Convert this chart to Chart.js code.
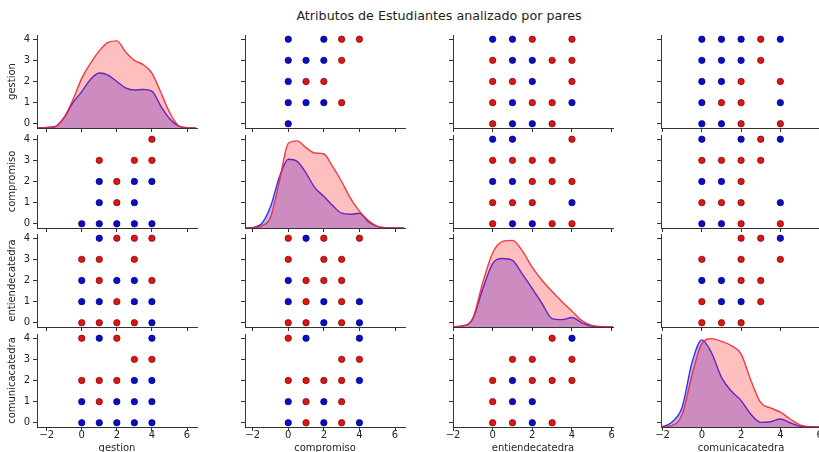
<!DOCTYPE html>
<html>
<head>
<meta charset="utf-8">
<script src="https://cdn.jsdelivr.net/npm/chart.js@4"></script>
<style>
  html, body { margin: 0; padding: 0; background: #ffffff; overflow: hidden; }
  body { width: 819px; height: 452px; position: relative; }
  canvas { position: absolute; }
  #title { position: absolute; left: 0; top: 8px; width: 878px; text-align: center;
           font-family: "DejaVu Sans", sans-serif; font-size: 12.7px; color: #222; }
</style>
</head>
<body>
<div id="title">Atributos de Estudiantes analizado por pares</div>
<script>
// ---------- DATA ----------
const variables = ['gestion', 'compromiso', 'entiendecatedra', 'comunicacatedra'];
const xTickValues = [-2, 0, 2, 4, 6];
const yTickValues = [0, 1, 2, 3, 4];

// KDE curves (diagonal), density
const kdeGrid = [-2.5, -2, -1.5, -1, -0.5, 0, 0.5, 1, 1.5, 2, 2.5, 3, 3.5, 4, 4.5, 5, 5.5, 6, 6.5];
const kdeGestionRed   = [0, 0.01, 0.06, 0.5, 1.35, 2.35, 3.06, 3.65, 4.05, 4.12, 3.6, 3.2, 3.0, 2.6, 1.7, 0.75, 0.12, 0.01, 0];
const kdeGestionBlue  = [0, 0.03, 0.08, 0.5, 1.2, 1.72, 2.3, 2.6, 2.5, 2.2, 1.9, 1.8, 1.82, 1.75, 1.05, 0.45, 0.1, 0.02, 0];
const kdeCompromisoRed  = [0, 0.01, 0.1, 0.5, 2.2, 4.0, 4.12, 3.8, 3.55, 3.5, 2.9, 2.2, 1.4, 0.8, 0.35, 0.08, 0.01, 0, 0];
const kdeCompromisoBlue = [0, 0.03, 0.2, 1.0, 2.4, 3.25, 3.15, 2.6, 1.9, 1.5, 1.06, 0.7, 0.65, 0.7, 0.3, 0.08, 0.01, 0, 0];
const kdeEntiendeRed  = [0, 0.01, 0.05, 0.4, 2.1, 3.5, 4.05, 4.1, 3.6, 2.82, 2.2, 1.68, 1.2, 0.75, 0.3, 0.08, 0.02, 0, 0];
const kdeEntiendeBlue = [0, 0.01, 0.05, 0.4, 1.8, 3.0, 3.24, 3.15, 2.5, 1.82, 1.1, 0.4, 0.35, 0.45, 0.2, 0.04, 0.01, 0, 0];
const kdeComunicaRed  = [0, 0.01, 0.08, 0.6, 2.45, 3.95, 4.18, 4.05, 3.85, 3.45, 2.2, 1.15, 0.9, 0.7, 0.38, 0.1, 0.01, 0, 0];
const kdeComunicaBlue = [0, 0.03, 0.25, 0.95, 3.05, 4.12, 3.5, 2.35, 1.7, 1.25, 0.6, 0.22, 0.25, 0.38, 0.2, 0.04, 0.01, 0, 0];

// Scatter points [x (column variable), y (row variable)], visible colour
const ptsGestionCompromisoRed  = [[3,4],[4,4],[3,3],[1,2],[2,2],[3,1]];
const ptsGestionCompromisoBlue = [[0,4],[2,4],[0,3],[1,3],[2,3],[0,2],[0,1],[1,1],[2,1],[0,0]];
const ptsGestionEntiendeRed    = [[2,4],[4,4],[0,3],[3,3],[4,3],[0,2],[1,2],[4,2],[0,1],[2,1],[3,1],[0,0],[3,0]];
const ptsGestionEntiendeBlue   = [[0,4],[1,4],[1,3],[2,3],[2,2],[1,1],[4,1],[1,0],[2,0]];
const ptsGestionComunicaRed    = [[3,4],[3,3],[2,2],[4,2],[1,1],[2,1],[2,0],[4,0]];
const ptsGestionComunicaBlue   = [[0,4],[1,4],[2,4],[4,4],[0,3],[1,3],[2,3],[0,2],[1,2],[0,1],[4,1],[0,0],[1,0]];

const ptsCompromisoGestionRed  = [[4,4],[1,3],[3,3],[4,3],[2,2],[2,1]];
const ptsCompromisoGestionBlue = [[1,2],[3,2],[4,2],[1,1],[3,1],[0,0],[1,0],[2,0],[3,0],[4,0]];
const ptsCompromisoEntiendeRed  = [[4,4],[0,3],[1,3],[2,3],[3,3],[2,2],[3,2],[4,2],[0,1],[1,1],[2,1],[0,0],[3,0],[4,0]];
const ptsCompromisoEntiendeBlue = [[0,4],[1,4],[0,2],[1,2],[4,1],[1,0],[2,0]];
const ptsCompromisoComunicaRed  = [[3,4],[0,3],[1,3],[2,3],[3,3],[2,2],[0,1],[1,1],[2,1],[2,0],[4,0]];
const ptsCompromisoComunicaBlue = [[0,4],[2,4],[4,4],[0,2],[1,2],[4,1],[0,0],[1,0]];

const ptsEntiendeGestionRed  = [[2,4],[3,4],[4,4],[0,3],[1,3],[3,3],[1,2],[4,2],[2,1],[0,0],[1,0],[2,0],[3,0]];
const ptsEntiendeGestionBlue = [[1,4],[0,2],[2,2],[3,2],[0,1],[1,1],[3,1],[4,1],[4,0]];
const ptsEntiendeCompromisoRed  = [[0,4],[2,4],[4,4],[0,3],[2,3],[3,3],[1,2],[2,2],[3,2],[1,1],[3,1],[0,0],[1,0],[3,0]];
const ptsEntiendeCompromisoBlue = [[1,4],[0,2],[0,1],[2,1],[4,1],[2,0],[4,0]];
const ptsEntiendeComunicaRed  = [[2,4],[3,4],[0,3],[2,3],[4,3],[2,2],[3,2],[0,1],[3,1],[0,0],[1,0],[2,0]];
const ptsEntiendeComunicaBlue = [[4,4],[0,2],[1,2],[1,1],[2,1]];

const ptsComunicaGestionRed  = [[0,4],[2,4],[3,3],[4,3],[0,2],[1,2],[2,2],[1,1]];
const ptsComunicaGestionBlue = [[1,4],[4,4],[3,2],[4,2],[0,1],[2,1],[3,1],[4,1],[0,0],[1,0],[2,0],[3,0],[4,0]];
const ptsComunicaCompromisoRed  = [[0,4],[3,3],[4,3],[0,2],[1,2],[2,2],[3,2],[1,1],[3,1],[1,0],[3,0]];
const ptsComunicaCompromisoBlue = [[1,4],[4,4],[4,2],[0,1],[2,1],[0,0],[2,0],[4,0]];
const ptsComunicaEntiendeRed  = [[3,4],[1,3],[2,3],[4,3],[0,2],[2,2],[3,2],[4,2],[0,1],[0,0],[1,0],[3,0]];
const ptsComunicaEntiendeBlue = [[4,4],[1,2],[1,1],[2,1],[2,0]];

// ---------- LAYOUT / STYLE ----------
const colLeft = [37, 245, 453, 661];
const colWidth = 160;
const rowTop = [35, 135, 234, 334];
const rowHeight = 93;
const xLimits = [[-2.55, 6.57], [-2.43, 6.56], [-2.0, 6.07], [-2.08, 6.07]];
const yLimits = [-0.2, 4.2];

const FONT = '"DejaVu Sans", sans-serif';
const AXIS = '#333333';
const TEXT = '#262626';
const BLUE = '#0b0bc8', BLUE_EDGE = '#00006a';
const RED = '#dc1616', RED_EDGE = '#7a0000';

const kdeTable = [
  [kdeGestionRed, kdeGestionBlue],
  [kdeCompromisoRed, kdeCompromisoBlue],
  [kdeEntiendeRed, kdeEntiendeBlue],
  [kdeComunicaRed, kdeComunicaBlue]
];
const scatterTable = {
  '0-1': [ptsGestionCompromisoRed, ptsGestionCompromisoBlue],
  '0-2': [ptsGestionEntiendeRed, ptsGestionEntiendeBlue],
  '0-3': [ptsGestionComunicaRed, ptsGestionComunicaBlue],
  '1-0': [ptsCompromisoGestionRed, ptsCompromisoGestionBlue],
  '1-2': [ptsCompromisoEntiendeRed, ptsCompromisoEntiendeBlue],
  '1-3': [ptsCompromisoComunicaRed, ptsCompromisoComunicaBlue],
  '2-0': [ptsEntiendeGestionRed, ptsEntiendeGestionBlue],
  '2-1': [ptsEntiendeCompromisoRed, ptsEntiendeCompromisoBlue],
  '2-3': [ptsEntiendeComunicaRed, ptsEntiendeComunicaBlue],
  '3-0': [ptsComunicaGestionRed, ptsComunicaGestionBlue],
  '3-1': [ptsComunicaCompromisoRed, ptsComunicaCompromisoBlue],
  '3-2': [ptsComunicaEntiendeRed, ptsComunicaEntiendeBlue]
};

function fmt(v) { return v < 0 ? '\u2212' + Math.abs(v) : String(v); }

function makePanel(r, c) {
  const mL = c === 0 ? 37 : 14;
  const mR = 10, mT = 9;
  const mB = r === 3 ? 27 : 9;
  const canvas = document.createElement('canvas');
  const w = colWidth + mL + mR, h = rowHeight + mT + mB;
  canvas.width = w; canvas.height = h;
  canvas.style.width = w + 'px'; canvas.style.height = h + 'px';
  canvas.style.left = (colLeft[c] - mL) + 'px';
  canvas.style.top = (rowTop[r] - mT) + 'px';
  document.body.appendChild(canvas);

  const datasets = [];
  const scales = {
    x: {
      type: 'linear', position: 'bottom',
      min: xLimits[c][0], max: xLimits[c][1],
      afterBuildTicks: s => { s.ticks = xTickValues.map(v => ({ value: v })); },
      afterFit: s => { s.height = mB; },
      border: { display: true, color: AXIS, width: 1 },
      grid: { drawOnChartArea: false, drawTicks: true, tickLength: 4, tickColor: AXIS, tickWidth: 1 },
      ticks: { display: r === 3, font: { family: FONT, size: 10 }, color: TEXT, padding: -2,
               maxRotation: 0, autoSkip: false, callback: v => fmt(v) },
      title: { display: r === 3, text: variables[c], font: { family: FONT, size: 10 }, color: TEXT,
               padding: { top: 0, bottom: 0 } }
    },
    y: {
      type: 'linear', position: 'left',
      min: yLimits[0], max: yLimits[1],
      afterBuildTicks: s => { s.ticks = yTickValues.map(v => ({ value: v })); },
      afterFit: s => { s.width = mL; },
      border: { display: true, color: AXIS, width: 1 },
      grid: { drawOnChartArea: false, drawTicks: true, tickLength: 4, tickColor: AXIS, tickWidth: 1 },
      ticks: { display: c === 0, font: { family: FONT, size: 10 }, color: TEXT, padding: 3,
               autoSkip: false, callback: v => fmt(v) },
      title: { display: c === 0, text: variables[r], font: { family: FONT, size: 10 }, color: TEXT,
               padding: { top: 6, bottom: 0 } }
    }
  };

  if (r === c) {
    scales.yd = { type: 'linear', display: false, min: 0, max: yLimits[1] - yLimits[0] };
    const [red, blue] = kdeTable[r];
    datasets.push({
      type: 'line', yAxisID: 'yd', order: 1,
      data: kdeGrid.map((x, i) => ({ x: x, y: red[i] })),
      borderColor: 'rgba(240,40,50,0.9)', backgroundColor: 'rgba(255,0,0,0.25)',
      borderWidth: 1.4, fill: 'origin', pointRadius: 0, cubicInterpolationMode: 'monotone'
    });
    datasets.push({
      type: 'line', yAxisID: 'yd', order: 2,
      data: kdeGrid.map((x, i) => ({ x: x, y: blue[i] })),
      borderColor: 'rgba(40,40,255,0.95)', backgroundColor: 'rgba(0,0,255,0.27)',
      borderWidth: 1.4, fill: 'origin', pointRadius: 0, cubicInterpolationMode: 'monotone'
    });
  } else {
    const [red, blue] = scatterTable[r + '-' + c];
    datasets.push({
      type: 'scatter', order: 2,
      data: blue.map(p => ({ x: p[0], y: p[1] })),
      backgroundColor: BLUE, borderColor: BLUE_EDGE, borderWidth: 0.7, pointRadius: 3.2
    });
    datasets.push({
      type: 'scatter', order: 1,
      data: red.map(p => ({ x: p[0], y: p[1] })),
      backgroundColor: RED, borderColor: RED_EDGE, borderWidth: 0.7, pointRadius: 3.2
    });
  }

  new Chart(canvas, {
    data: { datasets: datasets },
    options: {
      responsive: false, animation: false, events: [],
      devicePixelRatio: 1,
      layout: { autoPadding: false, padding: { left: 0, right: mR, top: mT, bottom: 0 } },
      plugins: { legend: { display: false }, tooltip: { enabled: false }, title: { display: false } },
      scales: scales
    }
  });
}

for (let r = 0; r < 4; r++) {
  for (let c = 0; c < 4; c++) makePanel(r, c);
}
</script>
</body>
</html>
